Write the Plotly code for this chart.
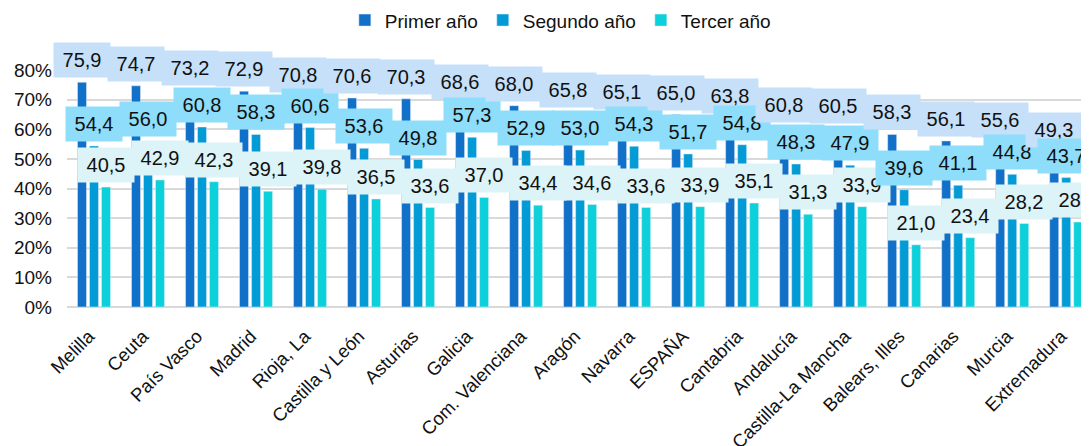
import plotly.graph_objects as go

categories = ["Melilla", "Ceuta", "País Vasco", "Madrid", "Rioja, La", "Castilla y León",
              "Asturias", "Galicia", "Com. Valenciana", "Aragón", "Navarra", "ESPAÑA",
              "Cantabria", "Andalucía", "Castilla-La Mancha", "Balears, Illes", "Canarias",
              "Murcia", "Extremadura"]
primer = [75.9, 74.7, 73.2, 72.9, 70.8, 70.6, 70.3, 68.6, 68.0, 65.8, 65.1, 65.0, 63.8,
          60.8, 60.5, 58.3, 56.1, 55.6, 49.3]
segundo = [54.4, 56.0, 60.8, 58.3, 60.6, 53.6, 49.8, 57.3, 52.9, 53.0, 54.3, 51.7, 54.8,
           48.3, 47.9, 39.6, 41.1, 44.8, 43.7]
tercer = [40.5, 42.9, 42.3, 39.1, 39.8, 36.5, 33.6, 37.0, 34.4, 34.6, 33.6, 33.9, 35.1,
          31.3, 33.9, 21.0, 23.4, 28.2, 28.7]
series_names = ["Primer año", "Segundo año", "Tercer año"]
y_ticks = [0, 10, 20, 30, 40, 50, 60, 70, 80]
y_tick_text = [f"{t}%" for t in y_ticks]

bar_colors = ["#1170C8", "#039BD6", "#0CD0DA"]
label_bg = ["#C6E0FA", "#8EDDFA", "#DCF3F8"]
FONT = "Liberation Sans, Arial, sans-serif"

H, T, B = 446, 62, 147
px_per_unit = (H - T - B) / 80.0
base_shift = 22
min_sep = 26

fig = go.Figure()
all_series = [primer, segundo, tercer]
for name, vals, col in zip(series_names, all_series, bar_colors):
    fig.add_trace(go.Bar(x=categories, y=vals, name=name, marker=dict(color=col)))

annotations = []
# label vertical positions in pixels above the zero line, with simple overlap avoidance
for j, cat in enumerate(categories):
    pos = [all_series[i][j] * px_per_unit + base_shift for i in range(3)]
    for i in (1, 0):
        if pos[i] - pos[i + 1] < min_sep:
            pos[i] = pos[i + 1] + min_sep
    for i in range(3):
        v = all_series[i][j]
        annotations.append(dict(
            x=cat, y=v, xref="x", yref="y",
            text=f"{v:.1f}".replace(".", ","),
            showarrow=False, xshift=(i - 1) * 12,
            yshift=pos[i] - v * px_per_unit,
            xanchor="center", yanchor="middle",
            width=54, height=32, bgcolor=label_bg[i],
            font=dict(family=FONT, size=20, color="#111111"),
        ))

fig.update_layout(
    width=1089, height=H,
    margin=dict(l=59, r=0, t=T, b=B, autoexpand=False),
    paper_bgcolor="white", plot_bgcolor="white",
    barmode="group", bargap=0.333, bargroupgap=0.25,
    font=dict(family=FONT, size=19, color="#111111"),
    legend=dict(orientation="h", x=0.479, xanchor="center", y=1.21, yanchor="middle",
                font=dict(size=19), itemwidth=30, traceorder="normal"),
    annotations=annotations,
    showlegend=True,
)
fig.update_xaxes(range=[-0.5, 18.57], tickangle=-45, tickfont=dict(size=18.5),
                 showgrid=False, showline=False, ticks="", ticklabelstandoff=14,
                 ticklabelshift=-5, automargin=False)
fig.update_yaxes(range=[0, 80.05], tickvals=y_ticks, ticktext=y_tick_text,
                 showgrid=True, gridcolor="#D9D9D9", gridwidth=1.5,
                 zeroline=True, zerolinecolor="#D9D9D9", zerolinewidth=1.5,
                 tickfont=dict(size=19), ticks="", ticklabelstandoff=14,
                 automargin=False)

fig.write_html("out.html")
